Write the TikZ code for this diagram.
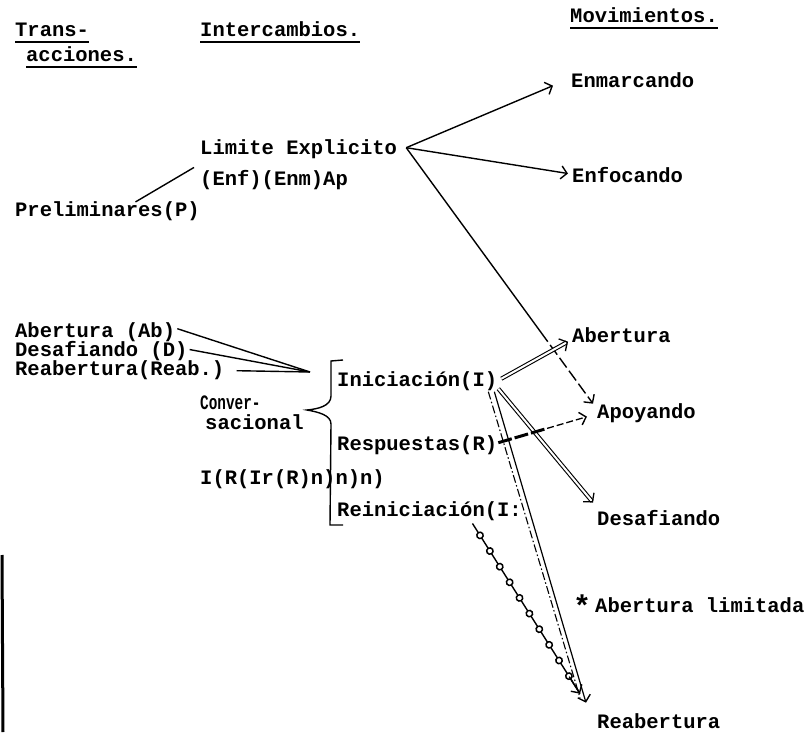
\documentclass[tikz,border=0pt]{standalone}
\usepackage{fontspec}
\setmonofont{Liberation Mono}
\usetikzlibrary{arrows.meta,calc,decorations.markings}
\begin{document}
\begin{tikzpicture}[x=1pt,y=1pt,
  txt/.style={font=\ttfamily\bfseries\fontsize{20.5}{24}\selectfont, inner sep=0pt, anchor=base west},
  ul/.style={line width=1.8pt},
  conn/.style={line width=1.4pt},
  tip/.style={-{Straight Barb[length=6pt,width=13pt,line width=1.4pt]}},
  dbl/.style={double=white, double distance=2pt, line width=1.1pt, -{Straight Barb[length=6pt,width=14pt,line width=1.3pt]}},
  beads/.style={line width=1.4pt, postaction={decorate},
    decoration={markings, mark=between positions 0.07 and 0.9 step 18.5pt with {\draw[line width=1.5pt, fill=white] (0,0) circle (3.2pt);}}}
]
\useasboundingbox (0,0) rectangle (806,732);

% headers
\node[txt] (h1) at (15,695) {Trans-};
\node[txt] (h2) at (26,670) {acciones.};
\node[txt] (h3) at (200,695) {Intercambios.};
\node[txt] (h4) at (570,709) {Movimientos.};
\foreach \n in {h1,h2,h3,h4}
  \draw[ul] ([yshift=-5pt]\n.base west) -- ([yshift=-5pt]\n.base east);

% texts
\node[txt] (enm) at (571,644) {Enmarcando};
\node[txt] (enf) at (572,549) {Enfocando};
\node[txt] (lim) at (200,577) {Limite Explicito};
\node[txt] (lims) at (200,546) {(Enf)(Enm)Ap};
\node[txt] (pre) at (15,515) {Preliminares(P)};
\node[txt] (ab) at (15,394) {Abertura (Ab)};
\node[txt] (de) at (15,375) {Desafiando (D)};
\node[txt] (rb) at (15,356) {Reabertura(Reab.)};
\node[txt] (ini) at (337,345) {Iniciación(I)};
\node[txt] (res) at (337,282) {Respuestas(R)};
\node[txt] (irr) at (200,248) {I(R(Ir(R)n)n)n)};
\node[txt] (rei) at (337,216) {Reiniciación(I:};
\node[txt] (con) at (200,323) {\scalebox{0.7}[1]{Conver-}};
\node[txt] (sac) at (205,303) {sacional};
\node[txt] (abR) at (572,389) {Abertura};
\node[txt] (apo) at (597,314) {Apoyando};
\node[txt] (desR) at (597,207) {Desafiando};
\node[txt, font=\ttfamily\bfseries\fontsize{30}{32}\selectfont] (ast) at (573,116) {*};
\node[txt] (abl) at (595,120) {Abertura limitada};
\node[txt] (reaR) at (597,4) {Reabertura};

% connector points
\coordinate (limE) at ([xshift=9pt,yshift=2pt]lim.east);
\coordinate (K) at (310,360);
\coordinate (apT) at ([xshift=-4pt,yshift=9pt]apo.west);
\coordinate (rS) at ([xshift=1pt,yshift=2pt]res.east);
\coordinate (aT) at ([xshift=-10pt,yshift=-4pt]apo.west);
\coordinate (iS) at ([xshift=-3pt,yshift=-10pt]ini.east);
\coordinate (rT) at ([xshift=-11pt,yshift=18pt]reaR.west);
\coordinate (bS) at ([xshift=43pt,yshift=-3pt]rei.south);
\coordinate (bT) at ([xshift=-17pt,yshift=27pt]reaR.west);

% Limite Explicito connectors
\draw[conn] ([xshift=28pt]pre.north) -- ([xshift=-6pt,yshift=-8pt]lim.south west);
\draw[conn,tip] (limE) -- ([xshift=-18pt,yshift=-5pt]enm.west);
\draw[conn,tip] (limE) -- ([xshift=-4pt,yshift=2pt]enf.west);
\draw[conn] (limE) -- ($(limE)!0.72!(apT)$);
\draw[conn,dash pattern=on 12pt off 4pt,tip] ($(limE)!0.72!(apT)$) -- (apT);

% left lines into bracket
\draw[conn] ([xshift=2pt,yshift=4pt]ab.east) -- (K);
\draw[conn] ([xshift=2pt,yshift=2pt]de.east) -- (K);
\draw[conn] ([xshift=12pt]rb.east) -- (K);

% bracket
\draw[conn] (343,372) -- (331,371) -- (331,336)
  .. controls (331,326) and (318,323) .. (307,322)
  .. controls (318,320) and (331,317) .. (331,308)
  -- (330,207) -- (343,207);

% Iniciacion connectors
\draw[dbl] ([xshift=4pt,yshift=3pt]ini.east) -- ([xshift=-4pt,yshift=-6pt]abR.west);
\draw[dbl] ([xshift=1pt,yshift=-7pt]ini.east) -- ([xshift=-4pt,yshift=15pt]desR.west);
\draw[conn,line width=1.2pt,tip] (iS) -- (rT);
\draw[line width=1.1pt,dash pattern=on 8pt off 2.5pt on 1.5pt off 2.5pt] ([xshift=-6pt]iS) -- ([xshift=-6pt,yshift=5pt]rT);

% Respuestas -> Apoyando
\draw[line width=3pt,dash pattern=on 14pt off 3pt] (rS) -- ($(rS)!0.55!(aT)$);
\draw[line width=1.3pt,dash pattern=on 7pt off 3pt,tip] ($(rS)!0.55!(aT)$) -- (aT);

% Reiniciacion -> Reabertura
\draw[beads] (bS) -- (bT);
\draw[line width=1.4pt,tip] ($(bS)!0.9!(bT)$) -- (bT);

% left edge line
\draw[line width=3pt] (2,177) -- (3,0);
\end{tikzpicture}
\end{document}
